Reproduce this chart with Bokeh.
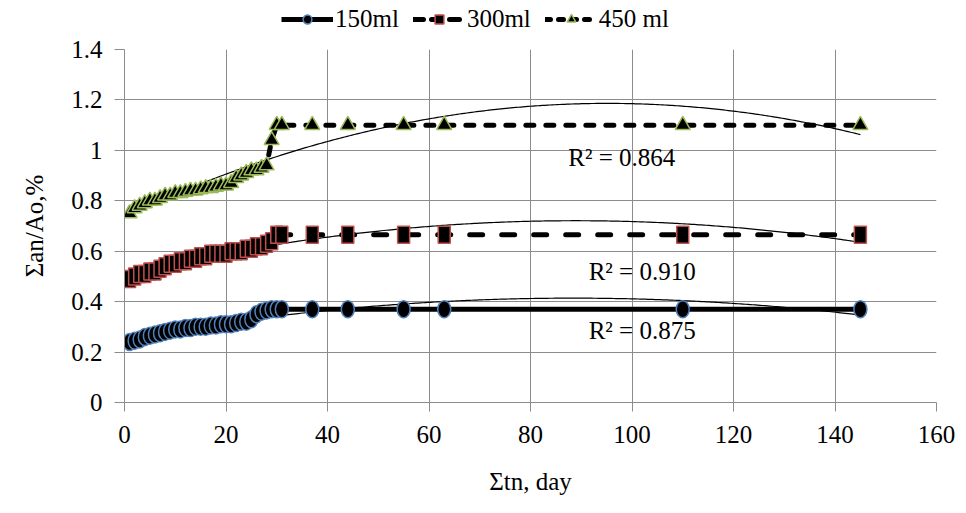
import numpy as np
from bokeh.plotting import figure
from bokeh.layouts import column
from bokeh.models import Legend, LegendItem, Label, FixedTicker, Range1d
from bokeh.embed import file_html
from bokeh.resources import INLINE

# ---- data ----
days = list(range(1, 32)) + [37, 44, 55, 63, 110, 145]
ml150 = [0.24, 0.245, 0.25, 0.26, 0.265, 0.27, 0.275, 0.28, 0.285, 0.29, 0.29, 0.295,
         0.295, 0.30, 0.30, 0.30, 0.305, 0.305, 0.31, 0.31, 0.31, 0.315, 0.32, 0.32,
         0.33, 0.35, 0.36, 0.365, 0.37, 0.37, 0.37, 0.37, 0.37, 0.37, 0.37, 0.37, 0.37]
ml300 = [0.49, 0.50, 0.51, 0.51, 0.52, 0.52, 0.53, 0.54, 0.55, 0.55, 0.56, 0.56,
         0.57, 0.57, 0.58, 0.58, 0.59, 0.59, 0.59, 0.59, 0.60, 0.60, 0.60, 0.61,
         0.61, 0.62, 0.62, 0.63, 0.64, 0.665, 0.665, 0.665, 0.665, 0.665, 0.665, 0.665, 0.665]
ml450 = [0.75, 0.77, 0.78, 0.79, 0.80, 0.80, 0.81, 0.82, 0.82, 0.83, 0.83, 0.835,
         0.84, 0.84, 0.845, 0.85, 0.85, 0.855, 0.86, 0.86, 0.87, 0.89, 0.90, 0.91,
         0.92, 0.92, 0.93, 0.94, 1.04, 1.10, 1.10, 1.10, 1.10, 1.10, 1.10, 1.10, 1.10]
series_names = ["150ml", "300ml", "450 ml"]
r2_texts = ["R\u00b2 = 0.875", "R\u00b2 = 0.910", "R\u00b2 = 0.864"]
r2_pos_x = [102, 102, 98]
r2_pos_y = [0.286, 0.52, 0.972]
x_ticks = [0, 20, 40, 60, 80, 100, 120, 140, 160]
y_ticks = [0, 0.2, 0.4, 0.6, 0.8, 1.0, 1.2, 1.4]
y_tick_labels = ["0", "0.2", "0.4", "0.6", "0.8", "1", "1.2", "1.4"]

FONT = "Liberation Serif"
GRID = "#8c8c8c"
C150, C300, C450 = "#4f81bd", "#c0504d", "#9bbb59"
DASH300, DASH450 = "13 19", "8 12"

# ---------- main chart ----------
p = figure(width=966, height=478, output_backend="svg", toolbar_location=None,
           x_range=Range1d(0, 160), y_range=Range1d(0, 1.4),
           min_border_left=124, min_border_right=30, min_border_top=14,
           min_border_bottom=111)
p.outline_line_color = None
p.background_fill_color = "white"

for ax in (p.xaxis[0], p.yaxis[0]):
    ax.axis_line_color = GRID
    ax.major_tick_line_color = GRID
    ax.minor_tick_line_color = None
    ax.major_label_text_font = FONT
    ax.major_label_text_font_size = "25px"
    ax.major_label_text_color = "black"
    ax.axis_label_text_font = FONT
    ax.axis_label_text_font_size = "25px"
    ax.axis_label_text_font_style = "normal"
    ax.axis_label_text_color = "black"

p.xaxis.ticker = FixedTicker(ticks=x_ticks)
p.yaxis.ticker = FixedTicker(ticks=y_ticks)
p.yaxis.major_label_overrides = {t: l for t, l in zip(y_ticks, y_tick_labels)}
p.xaxis.major_tick_out = 9
p.xaxis.major_tick_in = 0
p.yaxis.major_tick_out = 10
p.yaxis.major_tick_in = 0
p.xaxis.major_label_standoff = 14
p.yaxis.major_label_standoff = 12
p.xaxis.axis_label = "\u03a3tn, day"
p.yaxis.axis_label = "\u03a3an/Ao,%"
p.xaxis.axis_label_standoff = 22
p.yaxis.axis_label_standoff = 20

p.grid.grid_line_color = GRID
p.grid.grid_line_width = 1
p.xgrid.ticker = FixedTicker(ticks=x_ticks)
p.ygrid.ticker = FixedTicker(ticks=y_ticks)

x = np.array(days, dtype=float)

# trend lines (2nd order polynomial fits)
for ys in (ml150, ml300, ml450):
    c = np.polyfit(x, np.array(ys), 2)
    xt = np.linspace(x.min(), x.max(), 300)
    p.line(xt, np.polyval(c, xt), line_color="black", line_width=1.2)

# 150 ml
p.line(days, ml150, line_color="black", line_width=5)
p.ellipse(days, ml150, width=13, height=17, width_units="screen", height_units="screen",
          fill_color="black", line_color=C150, line_width=1.5)
# 300 ml
p.line(days, ml300, line_color="black", line_width=5, line_dash=DASH300, line_cap="round")
p.rect(days, ml300, width=12, height=17, width_units="screen", height_units="screen",
       fill_color="black", line_color=C300, line_width=1.5)
# 450 ml
p.line(days, ml450, line_color="black", line_width=5, line_dash=DASH450, line_cap="round")
p.scatter(days, ml450, marker="triangle", size=15, fill_color="black",
          line_color=C450, line_width=1.5)

for t, xx, yy in zip(r2_texts, r2_pos_x, r2_pos_y):
    p.add_layout(Label(x=xx, y=yy, text=t, text_font=FONT, text_font_size="25px",
                       text_align="center", text_baseline="middle", text_color="black"))

# ---------- legend strip (frame aligned with main chart) ----------
lg = figure(width=966, height=35, output_backend="svg", toolbar_location=None,
            x_range=Range1d(0, 1), y_range=Range1d(0, 1),
            min_border_left=0, min_border_right=0, min_border_top=0, min_border_bottom=0)
lg.axis.visible = False
lg.grid.visible = False
lg.outline_line_color = None

# off-range points so that only the legend swatches show
ox, oy = [5, 6], [5, 6]
r1 = [lg.line(ox, oy, line_color="black", line_width=5),
      lg.scatter(ox, oy, marker="circle", size=15, fill_color="black", line_color=C150, line_width=1.5)]
r2 = [lg.line(ox, oy, line_color="black", line_width=5, line_dash="10 8", line_cap="round"),
      lg.scatter(ox, oy, marker="square", size=14, fill_color="black", line_color=C300, line_width=1.5)]
r3 = [lg.line(ox, oy, line_color="black", line_width=5, line_dash="5 8", line_cap="round"),
      lg.scatter(ox, oy, marker="triangle", size=14, fill_color="black", line_color=C450, line_width=1.5)]

items = [LegendItem(label=n, renderers=rs, index=0) for n, rs in zip(series_names, [r1, r2, r3])]
legend = Legend(items=items, orientation="horizontal", location=(157, 2),
                border_line_color=None, background_fill_alpha=0,
                label_text_font=FONT, label_text_font_size="25px", label_text_color="black",
                glyph_width=52, glyph_height=22, spacing=14, padding=2, margin=0,
                label_standoff=2)
lg.add_layout(legend, "center")

open("out.html", "w").write(file_html(column(lg, p, spacing=0), INLINE))
